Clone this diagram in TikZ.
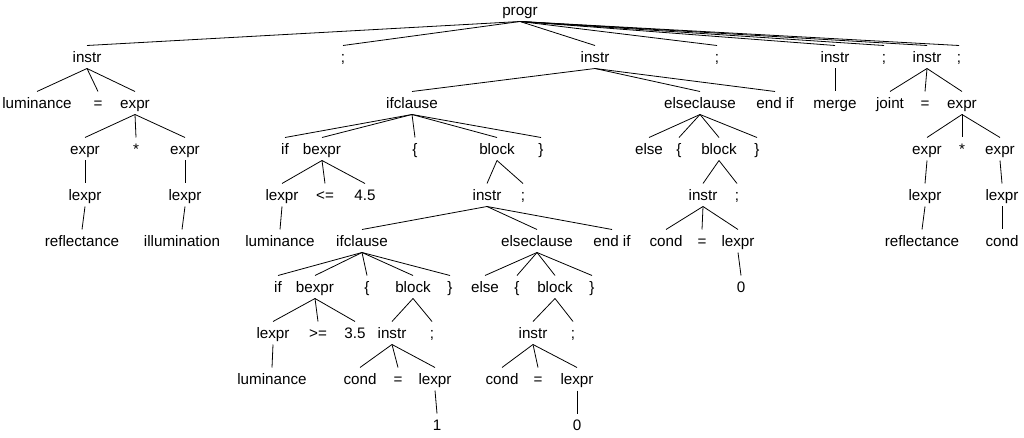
\documentclass[tikz,border=0pt]{standalone}
\usepackage{fontspec}
\setmainfont{Liberation Sans}

\begin{document}
\begin{tikzpicture}[x=1pt,y=-1pt,font=\fontsize{15.2}{18}\selectfont]
		\useasboundingbox (0,0) rectangle (1024,438);
		\begin{scope}[every node/.style={inner xsep=0pt,inner ysep=4.3pt,text height=12.5pt,text depth=1.5pt}]
			% level 0 and 1
			\node (p) at (520,10) {progr};
			\node (i1) at (87,57) {instr};
			\node (s1) at (343,57) {;};
			\node (i2) at (595,57) {instr};
			\node (s2) at (717,57) {;};
			\node (i3) at (835,57) {instr};
			\node (s3) at (884,57) {;};
			\node (i4) at (927,57) {instr};
			\node (s4) at (959,57) {;};
			% level 2
			\node (lum1) at (37,103) {luminance};
			\node (eqa) at (98,103) {=};
			\node (ea) at (135,103) {expr};
			\node (ifa) at (412,103) {ifclause};
			\node (ela) at (700,103) {elseclause};
			\node (fia) at (775,103) {end if};
			\node (mrg) at (835,103) {merge};
			\node (jnt) at (890,103) {joint};
			\node (eqd) at (925,103) {=};
			\node (ed) at (962,103) {expr};
			% level 3
			\node (ea1) at (85,149) {expr};
			\node (mula) at (136,149) {*};
			\node (ea2) at (185,149) {expr};
			\node (ifk1) at (285,149) {if};
			\node (bxa) at (322,149) {bexpr};
			\node (lba) at (415,149) {\{};
			\node (blka) at (497,149) {block};
			\node (rba) at (541,149) {\}};
			\node (elsa) at (649,149) {else};
			\node (lbb) at (679,149) {\{};
			\node (blkb) at (719,149) {block};
			\node (rbb) at (757,149) {\}};
			\node (ed1) at (927,149) {expr};
			\node (muld) at (962,149) {*};
			\node (ed2) at (1000,149) {expr};
			% level 4
			\node (lx1) at (85,195) {lexpr};
			\node (lx2) at (185,195) {lexpr};
			\node (lx3) at (282,195) {lexpr};
			\node (le) at (325,195) {<=};
			\node (n45) at (365,195) {4.5};
			\node (ib) at (487,195) {instr};
			\node (sb) at (523,195) {;};
			\node (ic) at (703,195) {instr};
			\node (sc) at (737,195) {;};
			\node (lx4) at (925,195) {lexpr};
			\node (lx5) at (1002,195) {lexpr};
			% level 5
			\node (refa) at (82,241) {reflectance};
			\node (ill) at (182,241) {illumination};
			\node (lum2) at (280,241) {luminance};
			\node (ifb) at (362,241) {ifclause};
			\node (elb) at (537,241) {elseclause};
			\node (fib) at (612,241) {end if};
			\node (cnc) at (666,241) {cond};
			\node (eqc) at (702,241) {=};
			\node (lxc) at (738,241) {lexpr};
			\node (refd) at (922,241) {reflectance};
			\node (cnd) at (1002,241) {cond};
			% level 6
			\node (ifk2) at (278,287) {if};
			\node (bxb) at (315,287) {bexpr};
			\node (lbc) at (367,287) {\{};
			\node (blkc) at (413,287) {block};
			\node (rbc) at (450,287) {\}};
			\node (elsb) at (485,287) {else};
			\node (lbd) at (517,287) {\{};
			\node (blkd) at (555,287) {block};
			\node (rbd) at (592,287) {\}};
			\node (zc) at (741,287) {0};
			% level 7
			\node (lx6) at (273,333) {lexpr};
			\node (ge) at (318,333) {>=};
			\node (n35) at (355,333) {3.5};
			\node (ie) at (392,333) {instr};
			\node (se) at (432,333) {;};
			\node (ig) at (533,333) {instr};
			\node (sg) at (573,333) {;};
			% level 8 and 9
			\node (lum3) at (272,379) {luminance};
			\node (cne) at (360,379) {cond};
			\node (eqe) at (398,379) {=};
			\node (lxe) at (435,379) {lexpr};
			\node (cng) at (502,379) {cond};
			\node (eqg) at (538,379) {=};
			\node (lxg) at (577,379) {lexpr};
			\node (one) at (437,425) {1};
			\node (zg) at (577,425) {0};
		\end{scope}

		\begin{scope}[line width=0.8pt]
			\path (p.south) edge (i1.north) edge (s1.north) edge (i2.north) edge (s2.north)
				edge (i3.north) edge (s3.north) edge (i4.north) edge (s4.north);
			% first instr
			\path (i1.south) edge (lum1.north) edge (eqa.north) edge (ea.north);
			\path (ea.south) edge (ea1.north) edge (mula.north) edge (ea2.north);
			\path (ea1.south) edge (lx1.north);
			\path (ea2.south) edge (lx2.north);
			\path (lx1.south) edge (refa.north);
			\path (lx2.south) edge (ill.north);
			% second instr
			\path (i2.south) edge (ifa.north) edge (ela.north) edge (fia.north);
			\path (ifa.south) edge (ifk1.north) edge (bxa.north) edge (lba.north) edge (blka.north) edge (rba.north);
			\path (bxa.south) edge (lx3.north) edge (le.north) edge (n45.north);
			\path (lx3.south) edge (lum2.north);
			\path (blka.south) edge (ib.north) edge (sb.north);
			\path (ib.south) edge (ifb.north) edge (elb.north) edge (fib.north);
			\path (ifb.south) edge (ifk2.north) edge (bxb.north) edge (lbc.north) edge (blkc.north) edge (rbc.north);
			\path (bxb.south) edge (lx6.north) edge (ge.north) edge (n35.north);
			\path (lx6.south) edge (lum3.north);
			\path (blkc.south) edge (ie.north) edge (se.north);
			\path (ie.south) edge (cne.north) edge (eqe.north) edge (lxe.north);
			\path (lxe.south) edge (one.north);
			\path (elb.south) edge (elsb.north) edge (lbd.north) edge (blkd.north) edge (rbd.north);
			\path (blkd.south) edge (ig.north) edge (sg.north);
			\path (ig.south) edge (cng.north) edge (eqg.north) edge (lxg.north);
			\path (lxg.south) edge (zg.north);
			\path (ela.south) edge (elsa.north) edge (lbb.north) edge (blkb.north) edge (rbb.north);
			\path (blkb.south) edge (ic.north) edge (sc.north);
			\path (ic.south) edge (cnc.north) edge (eqc.north) edge (lxc.north);
			\path (lxc.south) edge (zc.north);
			% third and fourth instr
			\path (i3.south) edge (mrg.north);
			\path (i4.south) edge (jnt.north) edge (eqd.north) edge (ed.north);
			\path (ed.south) edge (ed1.north) edge (muld.north) edge (ed2.north);
			\path (ed1.south) edge (lx4.north);
			\path (ed2.south) edge (lx5.north);
			\path (lx4.south) edge (refd.north);
			\path (lx5.south) edge (cnd.north);
		\end{scope}
	\end{tikzpicture}
\end{document}
